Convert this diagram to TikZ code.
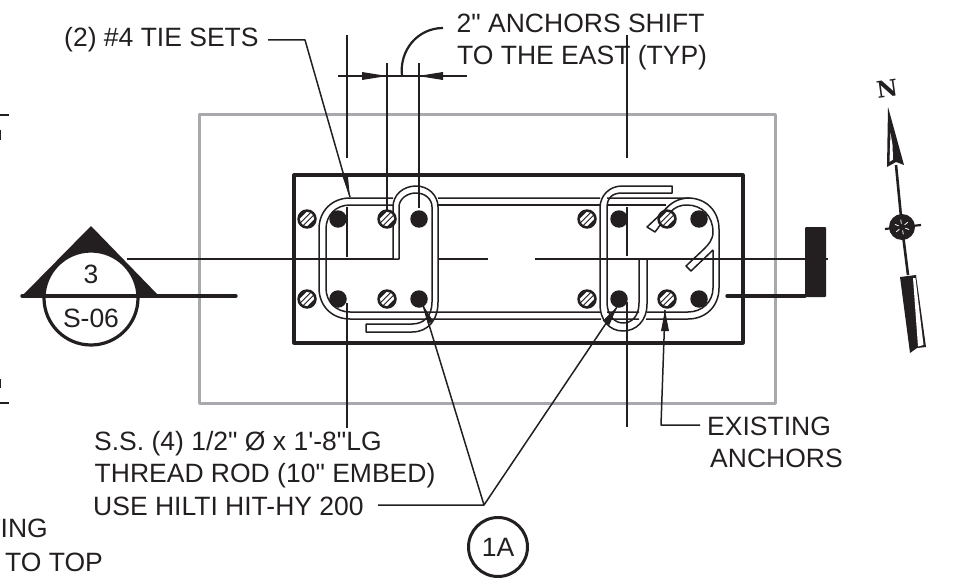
\documentclass[tikz,border=0pt]{standalone}
\usepackage{fontspec}
\newfontfamily\lab{Liberation Sans}
\newfontfamily\nfont{DejaVu Serif Bold}
\definecolor{ink}{HTML}{231F20}
\definecolor{slab}{HTML}{A7A9AC}
\begin{document}
\begin{tikzpicture}[x=1pt,y=-1pt,line join=round,
  thin line/.style={draw=ink,line width=1.5pt},
  med line/.style={draw=ink,line width=1.9pt},
  bar line/.style={draw=ink,line width=1.5pt},
  thick line/.style={draw=ink,line width=3.4pt,line cap=round},
  label/.style={text=ink,font=\lab\fontsize{26.5}{33}\selectfont,inner sep=0pt,anchor=base west},
  solid bolt/.style={circle,fill=ink,minimum size=17.5pt,inner sep=0pt},
  hatched bolt/.style={circle,fill=ink,minimum size=19.5pt,inner sep=0pt},
]
\useasboundingbox (0,0) rectangle (964,583);
% slab
\draw[draw=slab,line width=3pt] (199,115) rectangle (775,403);
\draw[draw=ink,line width=3.2pt] (294,175) rectangle (743,343);
% centre line and extension lines
\coordinate (cl0) at (127,259); \coordinate (cl1) at (393,259);
\coordinate (cl2) at (438,259); \coordinate (cl3) at (488,259);
\coordinate (cl4) at (535,259); \coordinate (cl5) at (828,259);
\draw[thin line] (cl0)--(cl1) (cl2)--(cl3) (cl4)--(cl5);
\foreach \n/\x/\a/\b in {a/347/35/158,b/347/207/257,c/347/303/428,d/627/35/158,e/627/207/256,f/627/302/427}{
  \coordinate (v\n1) at (\x,\a); \coordinate (v\n2) at (\x,\b);
  \draw[thin line] (v\n1)--(v\n2);
}
\foreach \n/\x/\a/\b in {g/387/63/210,h/419/63/208}{
  \coordinate (v\n1) at (\x,\a); \coordinate (v\n2) at (\x,\b);
  \draw[med line] (v\n1)--(v\n2);
}
% right stirrup
\draw[bar line] (672,186) -- (672,193) -- (622,193) .. controls (612,193) and (607,198) .. (607,208) -- (607,302)
  .. controls (607,316) and (615,323) .. (623,323) .. controls (632,323) and (639,316) .. (639,303) -- (639,259) -- (647,259) -- (647,304)
  .. controls (647,321) and (636,331) .. (623,331) .. controls (610,331) and (600,321) .. (600,304) -- (600,208)
  .. controls (600,195) and (610,186) .. (622,186) -- cycle;
% main tie
\draw[bar line] (393,198) -- (350,198) .. controls (332,198) and (319,211) .. (319,229) -- (319,288)
  .. controls (319,306) and (332,319) .. (350,319) -- (601,319);
\draw[bar line] (393,205) -- (350,205) .. controls (336,205) and (326,215) .. (326,229) -- (326,288) .. controls (326,302) and (336,312) .. (350,312) -- (600,312);
\draw[bar line] (438,198) -- (600,198) (607,198) -- (688,198) .. controls (706,198) and (719,211) .. (719,229) -- (719,288)
  .. controls (719,306) and (706,319) .. (688,319) -- (646,319) (639,319) -- (607,319);
\draw[bar line] (438,205) -- (600,205) (607,205) -- (666,205);
\draw[bar line] (607,312) -- (639,312) (647,312) -- (688,312) .. controls (702,312) and (713,302) .. (713,288) -- (713,250);
\draw[bar line] (687,205) .. controls (672,205) and (668,215) .. (655,232) -- (647,227) -- (663,212) .. controls (670,203) and (678,198) .. (690,198);
\draw[bar line] (687,205) .. controls (702,205) and (713,216) .. (713,232) .. controls (713,240) and (708,245) .. (704,249) -- (686,266) -- (691,271) -- (713,250);
% second tie
\draw[bar line] (393,259) -- (393,207) .. controls (393,195) and (403,186) .. (416,186) .. controls (428,186) and (438,195) .. (438,207) -- (438,302)
  .. controls (438,320) and (428,332) .. (412,332) -- (366,332) -- (366,324) -- (412,324) .. controls (424,324) and (432,316) .. (432,302) -- (432,207)
  .. controls (432,199) and (425,193) .. (416,193) .. controls (407,193) and (399,199) .. (399,207) -- (399,259) -- cycle;
% bolts
\foreach \n/\x/\y in {s1/338/219,s2/419/219,s3/338/299,s4/419/299,s5/619/219,s6/699/219,s7/619/299,s8/699/299}{
  \node[solid bolt] (\n) at (\x,\y) {};
}
\foreach \n/\x/\y in {h1/307/219,h2/387/219,h3/307/299,h4/387/299,h5/587/219,h6/667/219,h7/587/299,h8/667/299}{
  \node[hatched bolt] (\n) at (\x,\y) {};
  \begin{scope}[shift={(\x,\y)}]
    \clip (0,0) circle (7);
    \foreach \k in {-5.5,0,5.5}{\draw[white,line width=2.7pt] (\k-10,10) -- (\k+10,-10);}
  \end{scope}
}
% right section mark
\fill[ink,rounded corners=1pt] (805,227) rectangle (826,297);
\coordinate (br) at (805,296); \coordinate (bl) at (727,296);
\draw[thick line] (bl)--(br);
% left section mark
\coordinate (ta) at (91,226); \coordinate (tl) at (22,296); \coordinate (tr) at (159,296);
\fill[ink] (ta)--(tr)--(tl)--cycle;
\node[circle,draw=ink,line width=3.2pt,fill=white,minimum size=94pt,inner sep=0pt] (sec) at (91,298) {};
\coordinate (tend) at (236,296);
\draw[thick line] (tl)--(tend);
\node[label,anchor=base] (sa) at (91,283) {3};
\node[label,anchor=base] (sb) at (91,327) {S-06};
% cut-off marks at left edge
\coordinate (m1) at (0,115); \coordinate (m2) at (9,115); \coordinate (m3) at (0,403); \coordinate (m4) at (9,403);
\draw[draw=ink,line width=1.9pt] (m1)--(m2) (m3)--(m4);
\draw[draw=ink,line width=1.5pt] (0,130)--(0,140) (0,379)--(0,388);
% dimension
\coordinate (d0) at (338,76); \coordinate (d1) at (467,76); \coordinate (d2) at (402,76); \coordinate (d3) at (443,28);
\draw[med line] (d0)--(d1);
\fill[ink] (387,76)--(362,72)--(362,80)--cycle;
\fill[ink] (418,76)--(443,72)--(443,80)--cycle;
\draw[draw=ink,line width=2.2pt] (d2) .. controls (399,50) and (418,28) .. (d3);
% labels
\node[label] (l1) at (64,47) {(2) \#4 TIE SETS};
\node[label] (l2) at (456.5,33) {2" ANCHORS SHIFT};
\node[label] (l3) at (457,65) {TO THE EAST (TYP)};
\node[label] (l4) at (94,450) {S.S. (4) 1/2" Ø x 1'-8"LG};
\node[label] (l5) at (94.5,482) {THREAD ROD (10" EMBED)};
\node[label] (l6) at (93,515) {USE HILTI HIT-HY 200};
\node[label] (l7) at (707,435) {EXISTING};
\node[label] (l8) at (710,467) {ANCHORS};
\node[label,anchor=base east] (l9) at (48,537) {TING};
\node[label,anchor=base east] (l10) at (103,571) {TO TOP};
% leaders
\coordinate (t0) at (268,40); \coordinate (t1) at (305,40); \coordinate (t2) at (350,197);
\draw[thin line] (t0)--(t1)--(t2);
\fill[ink] (350,198)--(348,177)--(342,175)--cycle;
\node[circle,draw=ink,line width=3pt,minimum size=59pt,inner sep=0pt,text=ink,font=\lab\fontsize{26.5}{30}\selectfont] (a1) at (498,547) {1A};
\coordinate (j) at (484,505); \coordinate (j0) at (378,505);
\coordinate (p1) at (423,305); \coordinate (p2) at (617,307);
\draw[thin line] (j0)--(j)--(p1) (j)--(p2);
\fill[ink] (423,305)--(428,324)--(433,321)--cycle;
\fill[ink] (617,307)--(602.7,320.8)--(609.3,325.2)--cycle;
\coordinate (e0) at (700,425); \coordinate (e1) at (661,425); \coordinate (e2) at (665,310);
\draw[thin line] (e0)--(e1)--(e2);
\fill[ink] (665,310)--(661,331)--(669,331)--cycle;
% north arrow
\node[text=ink,font=\nfont\fontsize{23}{23}\selectfont,rotate=8,inner sep=0] (north) at (887,89) {N};
\fill[ink] (888,107) -- (904,165) -- (896,162) -- (887,167) -- cycle;
\fill[white] (890.5,133) -- (889.5,162) -- (893,159.5) -- (892.5,145) -- cycle;
\coordinate (n1) at (896,165); \coordinate (n2) at (902,227); \coordinate (n3) at (908,275);
\draw[draw=ink,line width=2.6pt] (n1)--(n2)--(n3);
\node[circle,fill=ink,minimum size=26pt,inner sep=0] (nc) at (902,227) {};
\draw[draw=ink,line width=2.2pt] (885,229)--(921,225);
\foreach \a in {20,80,140,200,260,320}{
  \draw[white,line width=.8pt] (902,227) ++(\a:3.5) -- ++(\a:4);
}
\fill[ink] (900,277) -- (916,275) -- (926,347) -- (917,348) -- (910,353) -- cycle;
\fill[white] (913,278) -- (915.5,278) -- (923.5,345) -- (918,346.5) -- cycle;
\end{tikzpicture}
\end{document}
